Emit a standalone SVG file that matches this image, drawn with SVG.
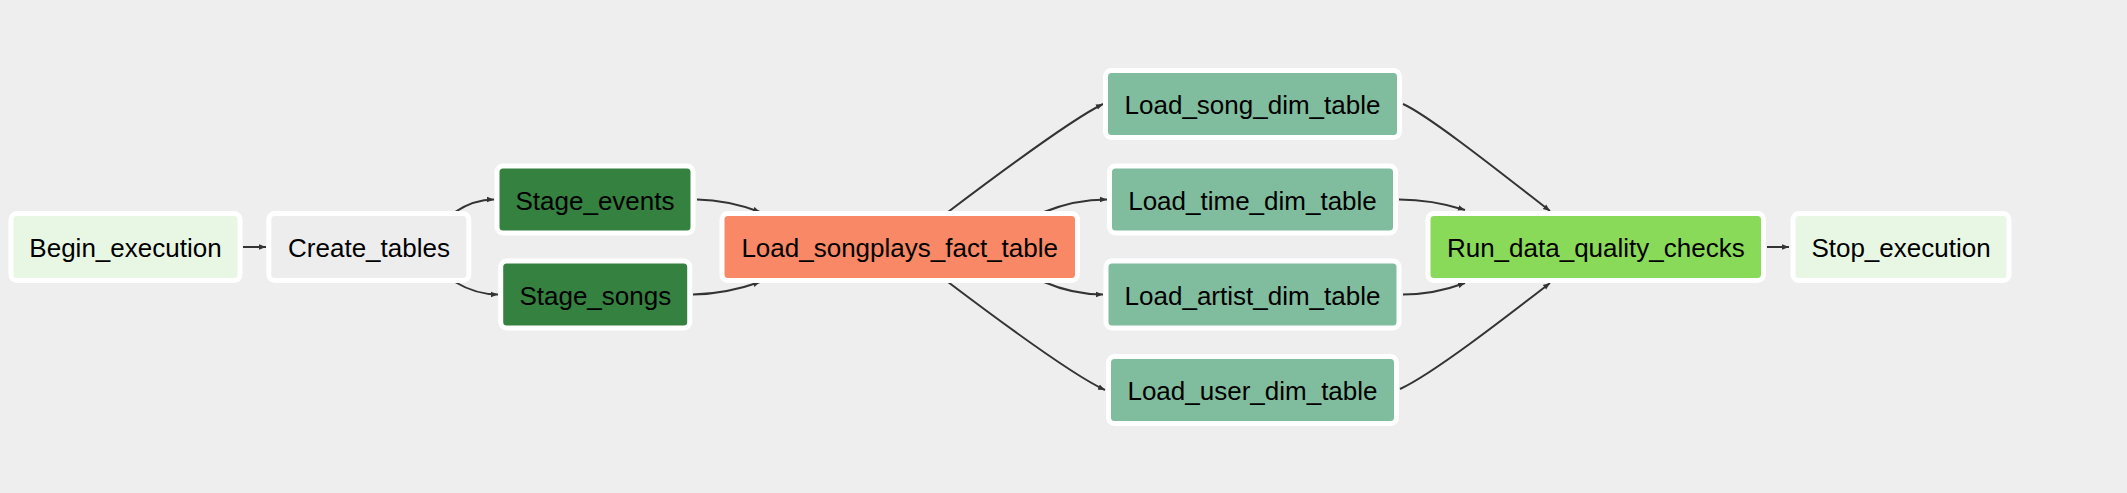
<svg xmlns="http://www.w3.org/2000/svg" width="2127" height="493" viewBox="0 0 2127 493">
<style>
.n rect{stroke:#ffffff;stroke-width:5}
.n text{font-family:"Liberation Sans",Arial,sans-serif;font-size:26px;fill:#000;text-anchor:middle}
.e path{fill:none;stroke:#333;stroke-width:2}
</style>
<defs>
<marker id="ah" viewBox="0 0 10 10" refX="10" refY="5" markerUnits="userSpaceOnUse" markerWidth="7" markerHeight="7" orient="auto">
<path d="M0,1 L10,5 L0,9 z" fill="#333"/>
</marker>
</defs>
<rect x="0" y="0" width="2127" height="493" fill="#eeeeee"/>
<g class="e" id="edges">
<path marker-end="url(#ah)" d="M243,247 L266,247"/>
<path marker-end="url(#ah)" d="M455,212 Q474,199.5 494,199.5"/>
<path marker-end="url(#ah)" d="M455,282 Q476,294.5 498,294.5"/>
<path marker-end="url(#ah)" d="M697,199.5 Q728,200 760,212"/>
<path marker-end="url(#ah)" d="M693,294.5 Q726,294 760,282"/>
<path marker-end="url(#ah)" d="M948,212 C985,184 1070,120 1103,104"/>
<path marker-end="url(#ah)" d="M1044,212 Q1075,199.5 1107,199.5"/>
<path marker-end="url(#ah)" d="M1044,282 Q1073,294.5 1103,294.5"/>
<path marker-end="url(#ah)" d="M948,282 C985,310 1070,374 1105,390"/>
<path marker-end="url(#ah)" d="M1403,104 C1430,116 1510,180 1550,211"/>
<path marker-end="url(#ah)" d="M1399,199.5 Q1432,199.5 1465,210"/>
<path marker-end="url(#ah)" d="M1403,294.5 Q1434,294.5 1465,283"/>
<path marker-end="url(#ah)" d="M1400,389 C1433,374 1510,314 1550,283"/>
<path marker-end="url(#ah)" d="M1767,247 L1789,247"/>
</g>
<g class="n" id="begin_execution"><rect x="11" y="213.5" width="229" height="67" rx="6" fill="#e8f7e4"/><text x="125.5" y="257">Begin_execution</text></g>
<g class="n" id="create_tables"><rect x="268.8" y="213.5" width="200" height="67" rx="6" fill="#ededed"/><text x="369" y="257">Create_tables</text></g>
<g class="n" id="stage_events"><rect x="497" y="166" width="196" height="67" rx="6" fill="#358140"/><text x="595" y="209.5">Stage_events</text></g>
<g class="n" id="stage_songs"><rect x="500.7" y="261" width="189" height="67" rx="6" fill="#358140"/><text x="595.3" y="304.5">Stage_songs</text></g>
<g class="n" id="load_songplays_fact_table"><rect x="722" y="213.5" width="355.5" height="67" rx="6" fill="#f98866"/><text x="899.7" y="257">Load_songplays_fact_table</text></g>
<g class="n" id="load_song_dim_table"><rect x="1105.5" y="70.5" width="294" height="67" rx="6" fill="#80bd9e"/><text x="1252.5" y="114">Load_song_dim_table</text></g>
<g class="n" id="load_time_dim_table"><rect x="1109.5" y="166" width="286" height="67" rx="6" fill="#80bd9e"/><text x="1252.5" y="209.5">Load_time_dim_table</text></g>
<g class="n" id="load_artist_dim_table"><rect x="1106" y="261" width="293" height="67" rx="6" fill="#80bd9e"/><text x="1252.5" y="304.5">Load_artist_dim_table</text></g>
<g class="n" id="load_user_dim_table"><rect x="1108.5" y="356.5" width="288" height="67" rx="6" fill="#80bd9e"/><text x="1252.5" y="400">Load_user_dim_table</text></g>
<g class="n" id="run_data_quality_checks"><rect x="1428" y="213.5" width="335.5" height="67" rx="6" fill="#89da59"/><text x="1595.8" y="257">Run_data_quality_checks</text></g>
<g class="n" id="stop_execution"><rect x="1793" y="213.5" width="216" height="67" rx="6" fill="#e8f7e4"/><text x="1901" y="257">Stop_execution</text></g>
</svg>
